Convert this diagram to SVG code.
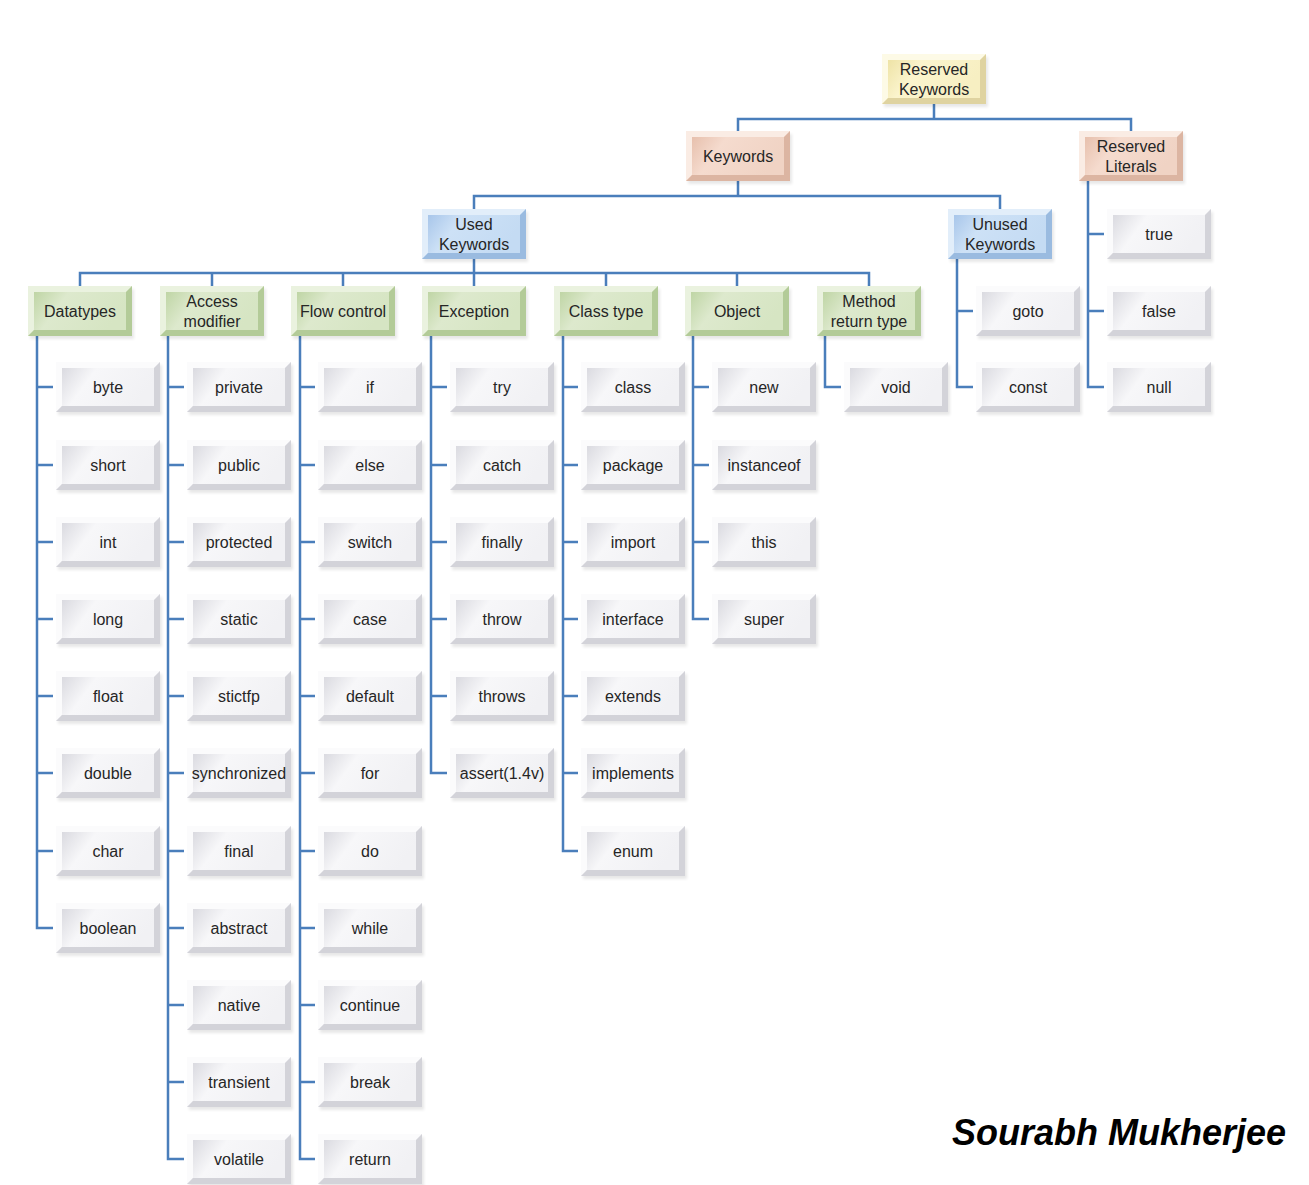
<svg xmlns="http://www.w3.org/2000/svg" xmlns:xlink="http://www.w3.org/1999/xlink" width="1309" height="1185" viewBox="0 0 1309 1185">
<style>
.t{font-family:"Liberation Sans",Arial,sans-serif;font-size:16px;fill:#262626;text-anchor:middle}
.conn{fill:none;stroke:#4a7ebb;stroke-width:2.5}
.sig{font-family:"Liberation Sans",Arial,sans-serif;font-size:37px;font-weight:bold;font-style:italic;fill:#000}
</style>
<defs>
<filter id="sh" x="-10%" y="-10%" width="130%" height="140%"><feGaussianBlur stdDeviation="1.5"/></filter>
<linearGradient id="gLeaf" x1="0" y1="0" x2="1" y2="0.3"><stop offset="0" stop-color="#dadae0"/><stop offset="0.35" stop-color="#f7f7f9"/><stop offset="1" stop-color="#f1f1f4"/></linearGradient>
<linearGradient id="gGreen" x1="0" y1="0" x2="1" y2="0.3"><stop offset="0" stop-color="#bfd5a5"/><stop offset="0.35" stop-color="#dde9cd"/><stop offset="1" stop-color="#d6e5c3"/></linearGradient>
<linearGradient id="gBlue" x1="0" y1="0" x2="1" y2="0.3"><stop offset="0" stop-color="#a8c6ea"/><stop offset="0.35" stop-color="#cde1f6"/><stop offset="1" stop-color="#c4dbf3"/></linearGradient>
<linearGradient id="gPeach" x1="0" y1="0" x2="1" y2="0.3"><stop offset="0" stop-color="#e7c0ad"/><stop offset="0.35" stop-color="#f5dbce"/><stop offset="1" stop-color="#f0d3c4"/></linearGradient>
<linearGradient id="gYellow" x1="0" y1="0" x2="1" y2="0.3"><stop offset="0" stop-color="#eee3a6"/><stop offset="0.35" stop-color="#fbf4cd"/><stop offset="1" stop-color="#f7efc2"/></linearGradient>
<g id="leaf">
<rect x="2" y="3" width="104" height="50" fill="#000" opacity="0.09" filter="url(#sh)"/>
<rect width="104" height="50" fill="#ededf1"/>
<polygon points="0,0 104,0 98,6 6,6 6,44 0,50" fill="#fbfbfc"/>
<polygon points="104,0 104,50 0,50 6,44 98,44 98,6" fill="#d3d3d9"/>
<rect x="6" y="6" width="92" height="38" fill="url(#gLeaf)"/>
</g>
<g id="green">
<rect x="2" y="3" width="104" height="50" fill="#000" opacity="0.09" filter="url(#sh)"/>
<rect width="104" height="50" fill="#d7e5c5"/>
<polygon points="0,0 104,0 98,6 6,6 6,44 0,50" fill="#eaf2df"/>
<polygon points="104,0 104,50 0,50 6,44 98,44 98,6" fill="#b3cb98"/>
<rect x="6" y="6" width="92" height="38" fill="url(#gGreen)"/>
</g>
<g id="blue">
<rect x="2" y="3" width="104" height="50" fill="#000" opacity="0.09" filter="url(#sh)"/>
<rect width="104" height="50" fill="#c8def4"/>
<polygon points="0,0 104,0 98,6 6,6 6,44 0,50" fill="#e2eefa"/>
<polygon points="104,0 104,50 0,50 6,44 98,44 98,6" fill="#9abbe0"/>
<rect x="6" y="6" width="92" height="38" fill="url(#gBlue)"/>
</g>
<g id="peach">
<rect x="2" y="3" width="104" height="50" fill="#000" opacity="0.09" filter="url(#sh)"/>
<rect width="104" height="50" fill="#f4dacd"/>
<polygon points="0,0 104,0 98,6 6,6 6,44 0,50" fill="#faece4"/>
<polygon points="104,0 104,50 0,50 6,44 98,44 98,6" fill="#dcb5a2"/>
<rect x="6" y="6" width="92" height="38" fill="url(#gPeach)"/>
</g>
<g id="yellow">
<rect x="2" y="3" width="104" height="50" fill="#000" opacity="0.09" filter="url(#sh)"/>
<rect width="104" height="50" fill="#faf4cf"/>
<polygon points="0,0 104,0 98,6 6,6 6,44 0,50" fill="#fdfae6"/>
<polygon points="104,0 104,50 0,50 6,44 98,44 98,6" fill="#dfd3a0"/>
<rect x="6" y="6" width="92" height="38" fill="url(#gYellow)"/>
</g>
</defs>
<rect width="1309" height="1185" fill="#fff"/>

<g id="connectors" class="conn">
<path d="M934,104 V119 M738,131 V119 H1131 V131"/>
<path d="M738,181 V196 M474,209 V196 H1000 V209"/>
<path d="M474,259 V286 M80,286 V273 H869 V286 M212,273 V286 M343,273 V286 M606,273 V286 M737,273 V286"/>
<path d="M37,336 V928 H53 M37,387 H53 M37,465 H53 M37,542 H53 M37,619 H53 M37,696 H53 M37,773 H53 M37,851 H53"/>
<path d="M168,336 V1159 H184 M168,387 H184 M168,465 H184 M168,542 H184 M168,619 H184 M168,696 H184 M168,773 H184 M168,851 H184 M168,928 H184 M168,1005 H184 M168,1082 H184"/>
<path d="M300,336 V1159 H315 M300,387 H315 M300,465 H315 M300,542 H315 M300,619 H315 M300,696 H315 M300,773 H315 M300,851 H315 M300,928 H315 M300,1005 H315 M300,1082 H315"/>
<path d="M431,336 V773 H447 M431,387 H447 M431,465 H447 M431,542 H447 M431,619 H447 M431,696 H447"/>
<path d="M563,336 V851 H578 M563,387 H578 M563,465 H578 M563,542 H578 M563,619 H578 M563,696 H578 M563,773 H578"/>
<path d="M693,336 V619 H709 M693,387 H709 M693,465 H709 M693,542 H709"/>
<path d="M825,336 V387 H841"/>
<path d="M957,259 V387 H973 M957,311 H973"/>
<path d="M1088,181 V387 H1104 M1088,234 H1104 M1088,311 H1104"/>
</g>

<g id="n-reserved-keywords"><use href="#yellow" x="882" y="54"/><text class="t" x="934" y="75">Reserved</text><text class="t" x="934" y="95">Keywords</text></g>
<g id="n-keywords"><use href="#peach" x="686" y="131"/><text class="t" x="738" y="162">Keywords</text></g>
<g id="n-reserved-literals"><use href="#peach" x="1079" y="131"/><text class="t" x="1131" y="152">Reserved</text><text class="t" x="1131" y="172">Literals</text></g>
<g id="n-used-keywords"><use href="#blue" x="422" y="209"/><text class="t" x="474" y="230">Used</text><text class="t" x="474" y="250">Keywords</text></g>
<g id="n-unused-keywords"><use href="#blue" x="948" y="209"/><text class="t" x="1000" y="230">Unused</text><text class="t" x="1000" y="250">Keywords</text></g>

<g id="n-datatypes"><use href="#green" x="28" y="286"/><text class="t" x="80" y="317">Datatypes</text></g>
<g id="n-access-modifier"><use href="#green" x="160" y="286"/><text class="t" x="212" y="307">Access</text><text class="t" x="212" y="327">modifier</text></g>
<g id="n-flow-control"><use href="#green" x="291" y="286"/><text class="t" x="343" y="317">Flow control</text></g>
<g id="n-exception"><use href="#green" x="422" y="286"/><text class="t" x="474" y="317">Exception</text></g>
<g id="n-class-type"><use href="#green" x="554" y="286"/><text class="t" x="606" y="317">Class type</text></g>
<g id="n-object"><use href="#green" x="685" y="286"/><text class="t" x="737" y="317">Object</text></g>
<g id="n-method-return-type"><use href="#green" x="817" y="286"/><text class="t" x="869" y="307">Method</text><text class="t" x="869" y="327">return type</text></g>

<g id="n-byte"><use href="#leaf" x="56" y="362"/><text class="t" x="108" y="393">byte</text></g>
<g id="n-short"><use href="#leaf" x="56" y="440"/><text class="t" x="108" y="471">short</text></g>
<g id="n-int"><use href="#leaf" x="56" y="517"/><text class="t" x="108" y="548">int</text></g>
<g id="n-long"><use href="#leaf" x="56" y="594"/><text class="t" x="108" y="625">long</text></g>
<g id="n-float"><use href="#leaf" x="56" y="671"/><text class="t" x="108" y="702">float</text></g>
<g id="n-double"><use href="#leaf" x="56" y="748"/><text class="t" x="108" y="779">double</text></g>
<g id="n-char"><use href="#leaf" x="56" y="826"/><text class="t" x="108" y="857">char</text></g>
<g id="n-boolean"><use href="#leaf" x="56" y="903"/><text class="t" x="108" y="934">boolean</text></g>

<g id="n-private"><use href="#leaf" x="187" y="362"/><text class="t" x="239" y="393">private</text></g>
<g id="n-public"><use href="#leaf" x="187" y="440"/><text class="t" x="239" y="471">public</text></g>
<g id="n-protected"><use href="#leaf" x="187" y="517"/><text class="t" x="239" y="548">protected</text></g>
<g id="n-static"><use href="#leaf" x="187" y="594"/><text class="t" x="239" y="625">static</text></g>
<g id="n-stictfp"><use href="#leaf" x="187" y="671"/><text class="t" x="239" y="702">stictfp</text></g>
<g id="n-synchronized"><use href="#leaf" x="187" y="748"/><text class="t" x="239" y="779">synchronized</text></g>
<g id="n-final"><use href="#leaf" x="187" y="826"/><text class="t" x="239" y="857">final</text></g>
<g id="n-abstract"><use href="#leaf" x="187" y="903"/><text class="t" x="239" y="934">abstract</text></g>
<g id="n-native"><use href="#leaf" x="187" y="980"/><text class="t" x="239" y="1011">native</text></g>
<g id="n-transient"><use href="#leaf" x="187" y="1057"/><text class="t" x="239" y="1088">transient</text></g>
<g id="n-volatile"><use href="#leaf" x="187" y="1134"/><text class="t" x="239" y="1165">volatile</text></g>

<g id="n-if"><use href="#leaf" x="318" y="362"/><text class="t" x="370" y="393">if</text></g>
<g id="n-else"><use href="#leaf" x="318" y="440"/><text class="t" x="370" y="471">else</text></g>
<g id="n-switch"><use href="#leaf" x="318" y="517"/><text class="t" x="370" y="548">switch</text></g>
<g id="n-case"><use href="#leaf" x="318" y="594"/><text class="t" x="370" y="625">case</text></g>
<g id="n-default"><use href="#leaf" x="318" y="671"/><text class="t" x="370" y="702">default</text></g>
<g id="n-for"><use href="#leaf" x="318" y="748"/><text class="t" x="370" y="779">for</text></g>
<g id="n-do"><use href="#leaf" x="318" y="826"/><text class="t" x="370" y="857">do</text></g>
<g id="n-while"><use href="#leaf" x="318" y="903"/><text class="t" x="370" y="934">while</text></g>
<g id="n-continue"><use href="#leaf" x="318" y="980"/><text class="t" x="370" y="1011">continue</text></g>
<g id="n-break"><use href="#leaf" x="318" y="1057"/><text class="t" x="370" y="1088">break</text></g>
<g id="n-return"><use href="#leaf" x="318" y="1134"/><text class="t" x="370" y="1165">return</text></g>

<g id="n-try"><use href="#leaf" x="450" y="362"/><text class="t" x="502" y="393">try</text></g>
<g id="n-catch"><use href="#leaf" x="450" y="440"/><text class="t" x="502" y="471">catch</text></g>
<g id="n-finally"><use href="#leaf" x="450" y="517"/><text class="t" x="502" y="548">finally</text></g>
<g id="n-throw"><use href="#leaf" x="450" y="594"/><text class="t" x="502" y="625">throw</text></g>
<g id="n-throws"><use href="#leaf" x="450" y="671"/><text class="t" x="502" y="702">throws</text></g>
<g id="n-assert"><use href="#leaf" x="450" y="748"/><text class="t" x="502" y="779">assert(1.4v)</text></g>

<g id="n-class"><use href="#leaf" x="581" y="362"/><text class="t" x="633" y="393">class</text></g>
<g id="n-package"><use href="#leaf" x="581" y="440"/><text class="t" x="633" y="471">package</text></g>
<g id="n-import"><use href="#leaf" x="581" y="517"/><text class="t" x="633" y="548">import</text></g>
<g id="n-interface"><use href="#leaf" x="581" y="594"/><text class="t" x="633" y="625">interface</text></g>
<g id="n-extends"><use href="#leaf" x="581" y="671"/><text class="t" x="633" y="702">extends</text></g>
<g id="n-implements"><use href="#leaf" x="581" y="748"/><text class="t" x="633" y="779">implements</text></g>
<g id="n-enum"><use href="#leaf" x="581" y="826"/><text class="t" x="633" y="857">enum</text></g>

<g id="n-new"><use href="#leaf" x="712" y="362"/><text class="t" x="764" y="393">new</text></g>
<g id="n-instanceof"><use href="#leaf" x="712" y="440"/><text class="t" x="764" y="471">instanceof</text></g>
<g id="n-this"><use href="#leaf" x="712" y="517"/><text class="t" x="764" y="548">this</text></g>
<g id="n-super"><use href="#leaf" x="712" y="594"/><text class="t" x="764" y="625">super</text></g>

<g id="n-void"><use href="#leaf" x="844" y="362"/><text class="t" x="896" y="393">void</text></g>

<g id="n-goto"><use href="#leaf" x="976" y="286"/><text class="t" x="1028" y="317">goto</text></g>
<g id="n-const"><use href="#leaf" x="976" y="362"/><text class="t" x="1028" y="393">const</text></g>

<g id="n-true"><use href="#leaf" x="1107" y="209"/><text class="t" x="1159" y="240">true</text></g>
<g id="n-false"><use href="#leaf" x="1107" y="286"/><text class="t" x="1159" y="317">false</text></g>
<g id="n-null"><use href="#leaf" x="1107" y="362"/><text class="t" x="1159" y="393">null</text></g>

<text class="sig" x="952" y="1145" textLength="334" lengthAdjust="spacingAndGlyphs">Sourabh Mukherjee</text>
</svg>
